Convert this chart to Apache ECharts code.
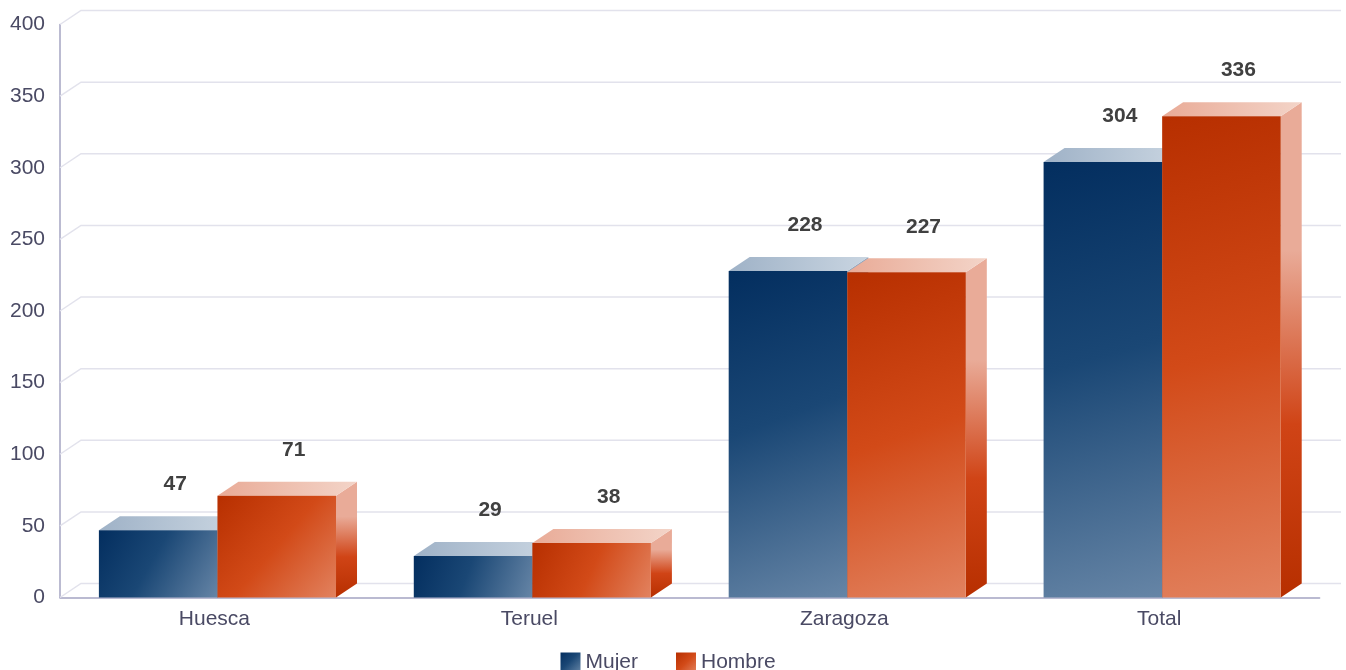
<!DOCTYPE html>
<html><head><meta charset="utf-8">
<style>html,body{margin:0;padding:0;background:#fff}#c{width:1346px;height:670px}</style>
<script src="https://cdn.jsdelivr.net/npm/echarts@6/dist/echarts.min.js"></script>
</head><body><div id="c"></div>
<script>
const categories = ['Huesca', 'Teruel', 'Zaragoza', 'Total'];
const mujer = [47, 29, 228, 304];
const hombre = [71, 38, 227, 336];
const yTicks = [0, 50, 100, 150, 200, 250, 300, 350, 400];

const FONT = 'Liberation Sans, Arial, sans-serif';
const DX = 21, DY = 14, RATIO = 118.6 / 315;
const lg = (x0, y0, x1, y1, stops) => new echarts.graphic.LinearGradient(x0, y0, x1, y1,
  stops.map(s => ({offset: s[0], color: s[1]})));

const palette = {
  Mujer: {
    front: [[0, '#032e5f'], [0.45, '#1a4775'], [1, '#6685a6']],
    top: [[0, '#9fb2c7'], [1, '#c9d5e1']],
    side: [[0, '#8fa6bf'], [0.3, '#8fa6bf'], [0.65, '#1a4775'], [1, '#032e5f']],
    legend: [[0, '#032e5f'], [0.45, '#1a4775'], [1, '#6685a6']]
  },
  Hombre: {
    front: [[0, '#b72f00'], [0.5, '#d24a18'], [1, '#e2825f']],
    top: [[0, '#e9ab97'], [1, '#f3d4c8']],
    side: [[0, '#e9ab98'], [0.3, '#e9ab98'], [0.65, '#d04416'], [1, '#b72f00']],
    legend: [[0, '#b72f00'], [0.5, '#d24a18'], [1, '#e2825f']]
  }
};

function barRenderer(name, side) {
  const p = palette[name];
  return function (params, api) {
    const i = api.value(0), v = api.value(1);
    const top = api.coord([i, v]), base = api.coord([i, 0]);
    const w = api.size([1, 0])[0] * RATIO;
    const x0 = side < 0 ? top[0] - w : top[0];
    const x1 = x0 + w, yT = top[1], yB = base[1];
    return {
      type: 'group',
      children: [
        {type: 'polygon', shape: {points: [[x1, yT], [x1 + DX, yT - DY], [x1 + DX, yB - DY], [x1, yB]]},
          style: {fill: lg(0, 0, 0, 1, p.side)}},
        {type: 'polygon', shape: {points: [[x0, yT], [x0 + DX, yT - DY], [x1 + DX, yT - DY], [x1, yT]]},
          style: {fill: lg(0, 0, 1, 0, p.top)}},
        {type: 'rect', shape: {x: x0, y: yT, width: w, height: yB - yT},
          style: {fill: lg(0, 0, 1, 1, p.front)}},
        {type: 'text', x: (x0 + x1) / 2 + 17, y: yT - 45.5,
          style: {text: String(v), fill: '#404040', font: 'bold 21px ' + FONT, textAlign: 'center', textVerticalAlign: 'middle'}}
      ]
    };
  };
}

function wallRenderer(params, api) {
  const v = api.value(0);
  const cs = params.coordSys;
  const y = api.coord([0, v])[1];
  const xL = cs.x;
  const xR = 1341;
  return {
    type: 'polyline',
    shape: {points: [[xL, y], [xL + DX, y - DY], [xR, y - DY]]},
    style: {fill: null, stroke: '#e2e2ec', lineWidth: 1.5}
  };
}

const chart = echarts.init(document.getElementById('c'), null, {renderer: 'canvas'});
chart.setOption({
  animation: false,
  backgroundColor: '#ffffff',
  grid: {left: 60, top: 24.5, width: 1259.6, height: 573, containLabel: false},
  legend: {
    data: ['Mujer', 'Hombre'], left: 555.5, top: 647, itemWidth: 20, itemHeight: 20, itemGap: 38,
    icon: 'rect', textStyle: {fontFamily: FONT, fontSize: 21, color: '#4a4a64'}
  },
  xAxis: {
    type: 'category', data: categories,
    axisLine: {show: true, lineStyle: {color: '#a4a4c2', width: 1.5}},
    axisTick: {show: false},
    axisLabel: {fontFamily: FONT, fontSize: 21, color: '#4a4a64', margin: 11, padding: [0, 6, 0, 0]}
  },
  yAxis: {
    type: 'value', min: 0, max: 400, interval: 50,
    axisLine: {show: true, lineStyle: {color: '#a4a4c2', width: 1.5}},
    axisTick: {show: false},
    splitLine: {show: false},
    axisLabel: {fontFamily: FONT, fontSize: 21, color: '#4a4a64', margin: 15, verticalAlign: 'middle', padding: [5, 0, 0, 0]}
  },
  series: [
    {type: 'custom', name: 'wall', silent: true, z: 1, data: yTicks.map(v => [v]), renderItem: wallRenderer,
      encode: {y: 0}},
    {type: 'custom', name: 'Mujer', z: 2, data: mujer.map((v, i) => [i, v]), renderItem: barRenderer('Mujer', -1),
      encode: {x: 0, y: 1}, itemStyle: {color: lg(0, 0, 1, 1, palette.Mujer.legend)}},
    {type: 'custom', name: 'Hombre', z: 3, data: hombre.map((v, i) => [i, v]), renderItem: barRenderer('Hombre', 1),
      encode: {x: 0, y: 1}, itemStyle: {color: lg(0, 0, 1, 1, palette.Hombre.legend)}}
  ]
});
</script></body></html>
